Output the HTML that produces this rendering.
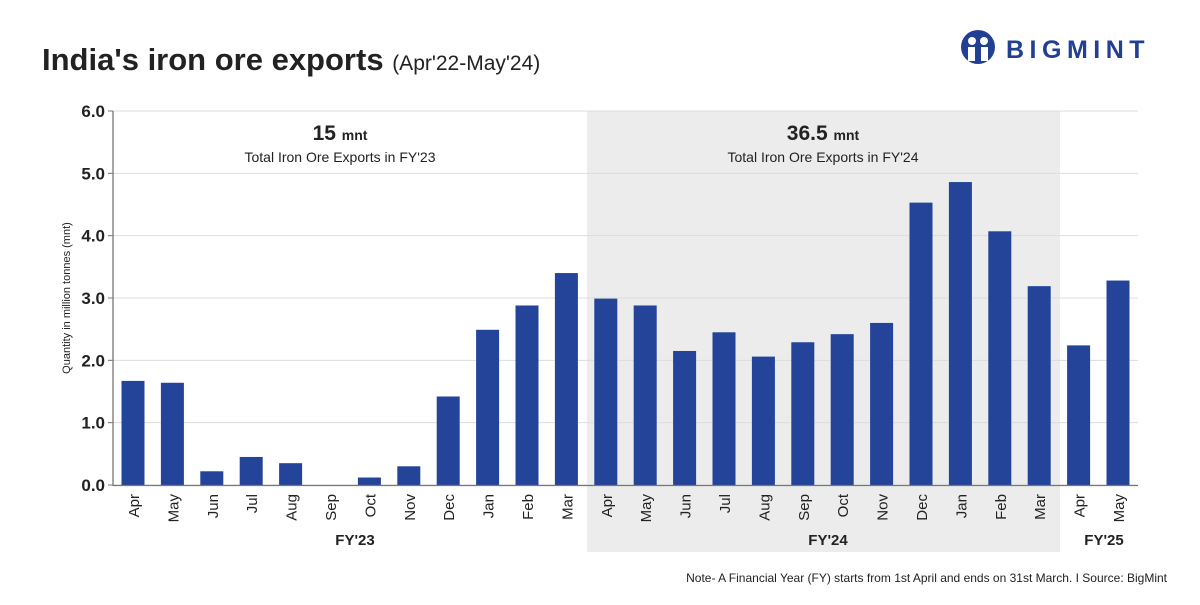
<!DOCTYPE html>
<html><head><meta charset="utf-8"><style>
body{margin:0;background:#fff;width:1200px;height:600px;overflow:hidden;font-family:"Liberation Sans",Arial,sans-serif}
</style></head><body>
<svg id="chart" width="1200" height="600" xmlns="http://www.w3.org/2000/svg" font-family="Liberation Sans, Arial, sans-serif">
<rect width="1200" height="600" fill="#fff"/>
<text x="42" y="70" font-size="31" font-weight="bold" fill="#222">India's iron ore exports <tspan font-size="21" font-weight="normal">(Apr'22-May'24)</tspan></text>
<g>
<circle cx="978" cy="47" r="17" fill="#213f93"/>
<circle cx="972" cy="41" r="4" fill="#fff"/><circle cx="984" cy="41" r="4" fill="#fff"/>
<rect x="968" y="47" width="7" height="14" fill="#fff"/><rect x="981" y="47" width="7" height="14" fill="#fff"/>
<text x="1006" y="58" font-size="25" font-weight="bold" fill="#213f93" letter-spacing="5.5">BIGMINT</text>
</g>
<rect x="587" y="111" width="473" height="441" fill="#ebeceb"/>
<g id="grid"></g>
<g id="bars"></g>
<line x1="113" y1="111" x2="113" y2="486" stroke="#777" stroke-width="1.3"/>
<line x1="113" y1="485.5" x2="1138" y2="485.5" stroke="#777" stroke-width="1.3"/>
<g id="labels"></g>
<text transform="translate(70,298) rotate(-90)" text-anchor="middle" font-size="11" fill="#222">Quantity in million tonnes (mnt)</text>
<text x="340" y="140" text-anchor="middle" font-size="21" font-weight="bold" fill="#222">15 <tspan font-size="14">mnt</tspan></text>
<text x="340" y="162" text-anchor="middle" font-size="14" fill="#222">Total Iron Ore Exports in FY'23</text>
<text x="823" y="140" text-anchor="middle" font-size="21" font-weight="bold" fill="#222">36.5 <tspan font-size="14">mnt</tspan></text>
<text x="823" y="162" text-anchor="middle" font-size="14" fill="#222">Total Iron Ore Exports in FY'24</text>
<text x="355" y="545" text-anchor="middle" font-size="15" font-weight="bold" fill="#222">FY'23</text>
<text x="828" y="545" text-anchor="middle" font-size="15" font-weight="bold" fill="#222">FY'24</text>
<text x="1104" y="545" text-anchor="middle" font-size="15" font-weight="bold" fill="#222">FY'25</text>
<text x="1167" y="582" text-anchor="end" font-size="12" fill="#222">Note- A Financial Year (FY) starts from 1st April and ends on 31st March.  I  Source: BigMint</text>
</svg>
<script>
const categories=["Apr","May","Jun","Jul","Aug","Sep","Oct","Nov","Dec","Jan","Feb","Mar","Apr","May","Jun","Jul","Aug","Sep","Oct","Nov","Dec","Jan","Feb","Mar","Apr","May"];
const values=[1.67,1.64,0.22,0.45,0.35,0,0.12,0.30,1.42,2.49,2.88,3.40,2.99,2.88,2.15,2.45,2.06,2.29,2.42,2.60,4.53,4.86,4.07,3.19,2.24,3.28];
const yTicks=[0,1,2,3,4,5,6];
const NS="http://www.w3.org/2000/svg";
const y=v=>485-v*(374/6);
const x=i=>133+i*39.4;
const grid=document.getElementById('grid'),bars=document.getElementById('bars'),labels=document.getElementById('labels');
yTicks.forEach(t=>{
  const l=document.createElementNS(NS,'line');
  l.setAttribute('x1',108);l.setAttribute('x2',1138);l.setAttribute('y1',y(t));l.setAttribute('y2',y(t));
  l.setAttribute('stroke','#ddd');l.setAttribute('stroke-width',1);
  
  
  grid.appendChild(l);
  const k=document.createElementNS(NS,'line');
  k.setAttribute('x1',108);k.setAttribute('x2',113);k.setAttribute('y1',y(t));k.setAttribute('y2',y(t));k.setAttribute('stroke','#777');
  grid.appendChild(k);
  const tx=document.createElementNS(NS,'text');
  tx.setAttribute('x',105);tx.setAttribute('y',y(t)+6);tx.setAttribute('text-anchor','end');
  tx.setAttribute('font-size',17);tx.setAttribute('font-weight','bold');tx.setAttribute('fill','#222');
  tx.textContent=t.toFixed(1);
  
  
  labels.appendChild(tx);
});
values.forEach((v,i)=>{
  const r=document.createElementNS(NS,'rect');
  r.setAttribute('x',x(i)-11.5);r.setAttribute('width',23);r.setAttribute('y',y(v));r.setAttribute('height',485-y(v));
  r.setAttribute('fill','#24449a');
  
  
  bars.appendChild(r);
  const tx=document.createElementNS(NS,'text');
  tx.setAttribute('transform','translate('+(x(i)+6)+',494) rotate(-90)');
  tx.setAttribute('text-anchor','end');tx.setAttribute('font-size',15);tx.setAttribute('fill','#222');
  tx.textContent=categories[i];
  
  
  labels.appendChild(tx);
});
</script>
</body></html>
